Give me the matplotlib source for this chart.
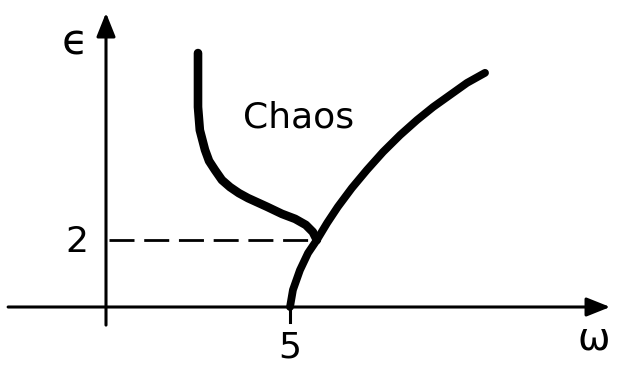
import numpy as np
import matplotlib.pyplot as plt

# Stability boundary in the (omega, epsilon) plane

# left branch, coming down from large epsilon into the junction
left_w = [2.50, 2.50, 2.50, 2.55, 2.69, 2.80, 2.96, 3.15, 3.37, 3.61, 3.86, 4.38, 4.78, 5.14, 5.43, 5.62, 5.73]
left_e = [7.58, 6.78, 5.97, 5.28, 4.69, 4.36, 4.09, 3.79, 3.58, 3.40, 3.25, 2.99, 2.78, 2.63, 2.45, 2.24, 2.00]

# right branch, starting at omega = 5 on the axis
right_w = [5.00, 5.08, 5.27, 5.49, 5.73, 6.01, 6.30, 6.68, 7.09, 7.53, 7.99, 8.45, 8.89, 9.35, 9.81, 10.30]
right_e = [0.00, 0.51, 1.10, 1.61, 2.00, 2.51, 2.99, 3.55, 4.09, 4.63, 5.13, 5.58, 5.97, 6.33, 6.69, 6.99]

w_tick = 5
e_mark = 2
region_label = 'Chaos'

fig = plt.figure(figsize=(6.19, 3.71), dpi=100)
ax = fig.add_axes([0, 0, 1, 1])
ax.set_xlim(-106 / 36.8, (619 - 106) / 36.8)
ax.set_ylim((307 - 371) / 33.5, 307 / 33.5)
ax.axis('off')

arrow = dict(arrowstyle='-|>,head_length=0.8,head_width=0.32', mutation_scale=18,
             lw=2.2, color='black', shrinkA=0, shrinkB=0)
# axes drawn by hand with arrow heads
ax.annotate('', xy=(13.70, 0), xytext=(-2.66, 0), arrowprops=arrow)
ax.annotate('', xy=(0, 8.78), xytext=(0, -0.54), arrowprops=arrow)

# tick at omega = 5 and the dashed guide at epsilon = 2
ax.plot([w_tick, w_tick], [0.2, -0.45], color='black', lw=2.2)
ax.plot([0.08, 5.62], [e_mark, e_mark], color='black', lw=2.0,
        dashes=(9, 3.5))

ax.plot(left_w, left_e, color='black', lw=6.2,
        solid_capstyle='round', solid_joinstyle='round')
ax.plot(right_w, right_e, color='black', lw=5.6,
        solid_capstyle='round', solid_joinstyle='round')

fs = 26
ax.text(w_tick, -1.22, str(w_tick), fontsize=fs, ha='center', va='center')
ax.text(-0.79, e_mark - 0.06, str(e_mark), fontsize=fs, ha='center', va='center')
ax.text(-0.84, 7.9, '\u03f5', fontsize=31, ha='center', va='center')
ax.text(13.26, -0.95, '\u03c9', fontsize=28, ha='center', va='center')
ax.text(5.22, 5.67, region_label, fontsize=fs, ha='center', va='center')

fig.savefig('out.png', dpi=100)
